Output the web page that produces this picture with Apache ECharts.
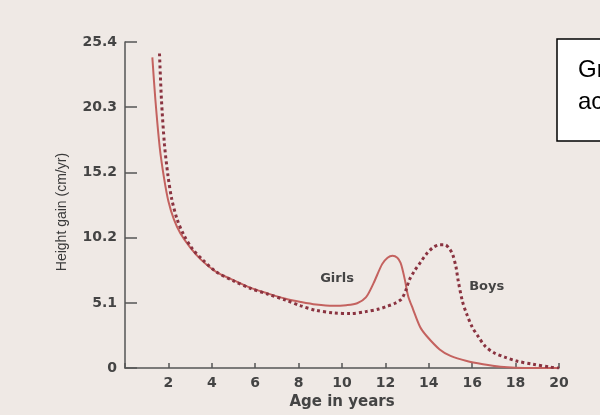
<!DOCTYPE html>
<html>
<head>
<meta charset="utf-8">
<script src="https://cdn.jsdelivr.net/npm/echarts@6/dist/echarts.min.js"></script>
<style>
  html, body { margin: 0; padding: 0; background: #efe9e5; }
  #charts { width: 600px; height: 415px; }
</style>
</head>
<body>
<div id="charts"></div>
<script>
// 数据
var girlsAge = [1.26, 1.4, 1.6, 1.8, 2.0, 2.25, 2.55, 3.0, 3.5, 4.2, 5.0, 5.8, 6.6, 7.4, 8.1, 8.8, 9.6, 10.2, 10.7, 11.1, 11.45, 11.85, 12.1, 12.33, 12.55, 12.7, 12.8, 12.9, 13.05, 13.27, 13.6, 13.9, 14.5, 15.0, 15.75, 16.5, 17.3, 18.0, 19.0, 20.0]
var girlsVal = [24.2, 20.9, 17.2, 14.8, 13.0, 11.6, 10.5, 9.4, 8.45, 7.5, 6.85, 6.25, 5.8, 5.4, 5.15, 4.95, 4.85, 4.9, 5.05, 5.5, 6.6, 8.1, 8.6, 8.75, 8.6, 8.2, 7.6, 6.85, 5.6, 4.6, 3.2, 2.5, 1.45, 0.95, 0.55, 0.3, 0.1, 0.02, 0, 0]
var boysAge = [1.59, 1.68, 1.82, 1.98, 2.15, 2.4, 2.7, 3.1, 3.6, 4.2, 5.0, 5.8, 6.6, 7.4, 8.1, 8.8, 9.6, 10.4, 11.1, 11.7, 12.05, 12.45, 12.75, 12.95, 13.1, 13.35, 13.6, 13.9, 14.2, 14.5, 14.75, 14.95, 15.1, 15.25, 15.35, 15.55, 15.75, 16.0, 16.3, 16.6, 17.0, 17.5, 18.05, 18.8, 19.6, 20.0]
var boysVal = [24.5, 20.9, 17.4, 15.0, 13.2, 11.6, 10.4, 9.3, 8.4, 7.5, 6.8, 6.2, 5.75, 5.3, 4.85, 4.5, 4.3, 4.25, 4.4, 4.6, 4.8, 5.05, 5.4, 6.1, 6.85, 7.6, 8.2, 8.9, 9.4, 9.6, 9.6, 9.3, 8.85, 7.9, 6.85, 5.2, 4.2, 3.2, 2.4, 1.7, 1.2, 0.85, 0.55, 0.3, 0.08, 0]
var yTickLabels = ['0', '5.1', '10.2', '15.2', '20.3', '25.4']
var xTickLabels = ['', '2', '4', '6', '8', '10', '12', '14', '16', '18', '20']

function pairs(xs, ys) {
  return xs.map(function (x, i) { return [x, ys[i]] })
}

var myChart = echarts.init(document.getElementById('charts'))
var labelFont = { fontFamily: 'DejaVu Sans', fontWeight: 'bold', fontSize: 14, color: '#444' }

var option = {
  backgroundColor: '#efe9e5',
  animation: false,
  grid: { left: 125, right: 41, top: 42, bottom: 43 },
  xAxis: {
    type: 'value',
    min: 0,
    max: 20,
    interval: 2,
    name: 'Age in years',
    nameLocation: 'middle',
    nameGap: 24,
    nameTextStyle: { fontFamily: 'DejaVu Sans', fontWeight: 'bold', fontSize: 15, color: '#444' },
    splitLine: { show: false },
    axisLine: { lineStyle: { color: '#555', width: 1.5 } },
    axisTick: { inside: true, length: 5, lineStyle: { color: '#555', width: 1.5 } },
    axisLabel: Object.assign({
      margin: 8,
      formatter: function (v) { return xTickLabels[Math.round(v / 2)] }
    }, labelFont)
  },
  yAxis: {
    type: 'value',
    min: 0,
    max: 25.4,
    interval: 5.08,
    name: 'Height gain (cm/yr)',
    nameLocation: 'middle',
    nameGap: 56,
    nameTextStyle: { fontFamily: 'Liberation Sans', fontSize: 14, color: '#3a3a3a', padding: [0, 14, 0, 0] },
    splitLine: { show: false },
    axisLine: { show: true, lineStyle: { color: '#555', width: 1.5 } },
    axisTick: { show: true, inside: true, length: 12, lineStyle: { color: '#555', width: 1.5 } },
    axisLabel: Object.assign({
      margin: 8,
      formatter: function (v) { return yTickLabels[Math.round(v / 5.08)] }
    }, labelFont)
  },
  series: [
    {
      name: 'Girls',
      type: 'line',
      data: pairs(girlsAge, girlsVal),
      smooth: 0.3,
      showSymbol: false,
      lineStyle: { color: '#c4625f', width: 2 },
      markPoint: {
        symbol: 'circle',
        symbolSize: 0,
        label: { show: true, formatter: 'Girls', fontFamily: 'DejaVu Sans', fontWeight: 'bold', fontSize: 13, color: '#444' },
        data: [{ coord: [9.77, 7.0] }]
      }
    },
    {
      name: 'Boys',
      type: 'line',
      data: pairs(boysAge, boysVal),
      smooth: 0.3,
      showSymbol: false,
      lineStyle: { color: '#8a3340', width: 3, type: [3, 3] },
      markPoint: {
        symbol: 'circle',
        symbolSize: 0,
        label: { show: true, formatter: 'Boys', fontFamily: 'DejaVu Sans', fontWeight: 'bold', fontSize: 13, color: '#444' },
        data: [{ coord: [16.67, 6.35] }]
      }
    }
  ],
  graphic: [
    {
      type: 'rect',
      shape: { x: 557, y: 39, width: 60, height: 102 },
      style: { fill: '#fff', stroke: '#000', lineWidth: 1.5 }
    },
    {
      type: 'text',
      x: 578, y: 70,
      style: { text: 'Gr', font: '24px "Liberation Sans"', fill: '#000', verticalAlign: 'middle' }
    },
    {
      type: 'text',
      x: 578, y: 102,
      style: { text: 'ac', font: '24px "Liberation Sans"', fill: '#000', verticalAlign: 'middle' }
    }
  ]
}
myChart.setOption(option)
</script>
</body>
</html>
